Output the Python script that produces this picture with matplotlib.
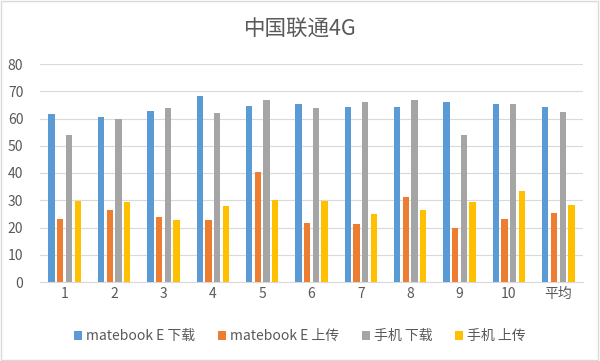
import matplotlib.pyplot as plt
import numpy as np
from matplotlib.patches import Rectangle

plt.rcParams['font.family'] = ['Noto Sans CJK SC', 'DejaVu Sans']

categories = ["1", "2", "3", "4", "5", "6", "7", "8", "9", "10", "平均"]
mate_down = [61.8, 60.6, 62.9, 68.1, 64.6, 65.3, 64.1, 64.1, 66.1, 65.4, 64.3]
mate_up = [23.1, 26.6, 23.7, 22.8, 40.3, 21.6, 21.4, 31.1, 19.9, 23.3, 25.4]
phone_down = [54.1, 59.7, 64.0, 62.0, 66.9, 63.7, 66.2, 66.7, 54.1, 65.4, 62.4]
phone_up = [29.7, 29.3, 22.8, 27.8, 30.2, 29.9, 24.9, 26.3, 29.5, 33.3, 28.4]

series = [
    ("matebook E 下载", mate_down, "#5B9BD5"),
    ("matebook E 上传", mate_up, "#ED7D31"),
    ("手机 下载", phone_down, "#A5A5A5"),
    ("手机 上传", phone_up, "#FFC000"),
]

fig = plt.figure(figsize=(6.0, 3.61), dpi=100)
ax = fig.add_axes([40 / 600, 1 - 282 / 361, 543 / 600, 218 / 361])

x = np.arange(len(categories))
pitch = 0.176
width = 0.128
for i, (name, vals, color) in enumerate(series):
    ax.bar(x + (i - 1.5) * pitch, vals, width=width, color=color, label=name, zorder=3)

ax.set_xlim(-0.5, len(categories) - 0.5)
ax.set_ylim(0, 80)
ax.set_yticks(range(0, 81, 10))
ax.set_xticks(x)
ax.set_xticklabels(categories)
ax.grid(axis="y", color="#d9d9d9", linewidth=0.8, zorder=0)
for s in ["top", "right", "left"]:
    ax.spines[s].set_visible(False)
ax.spines["bottom"].set_color("#d9d9d9")
ax.tick_params(axis="both", length=0, colors="#595959", labelsize=10)
ax.tick_params(axis="y", pad=12)

fig.text(0.5, 1 - 30 / 361, "中国联通4G", ha="center", va="center", fontsize=15.5, color="#595959")

leg = fig.legend(loc="center", bbox_to_anchor=(0.5, 1 - 336 / 361), ncol=4, frameon=False,
                 fontsize=10, handlelength=0.6, handleheight=0.6, handletextpad=0.3,
                 columnspacing=1.6)
for t in leg.get_texts():
    t.set_color("#595959")

fig.patches.append(Rectangle((0.002, 0.003), 0.995, 0.994, transform=fig.transFigure,
                             fill=False, edgecolor="#d9d9d9", linewidth=1))

fig.savefig("out.png", dpi=100)
